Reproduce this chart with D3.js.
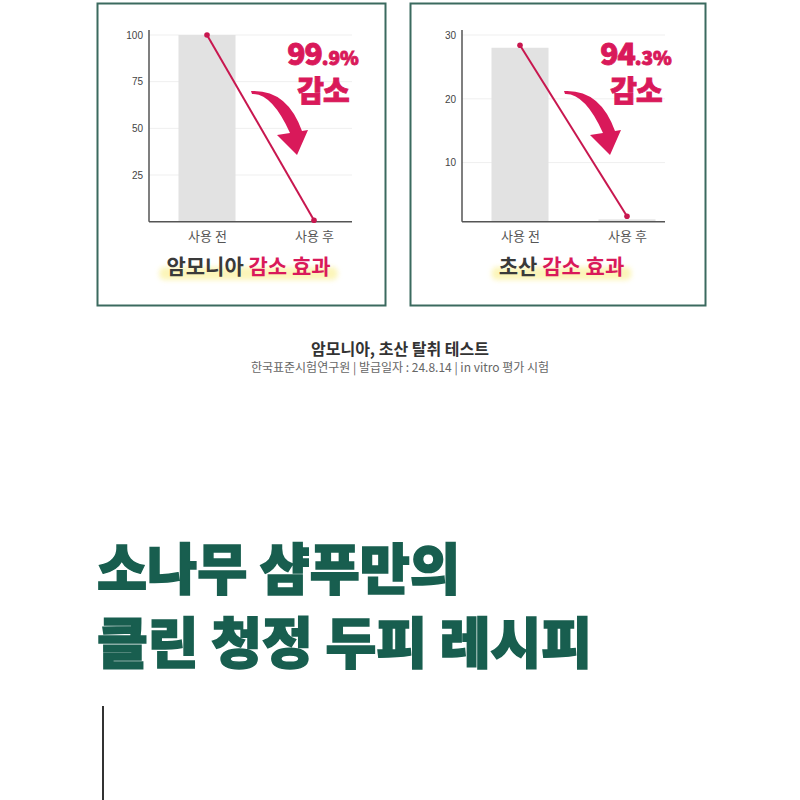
<!DOCTYPE html>
<html>
<head>
<meta charset="utf-8">
<script src="https://cdn.jsdelivr.net/npm/d3@7"></script>
<style>
  body { margin: 0; background: #fff; }
  svg { display: block; }
  text { font-family: "Noto Sans CJK KR", "Noto Sans", sans-serif; }
</style>
</head>
<body>
<svg id="chart" width="800" height="800"></svg>
<script>
// ------ DATA ------
const categories = ['사용 전', '사용 후'];

const ammoniaBars = [100, 0.1];
const ammoniaLine = [100, 0.8];
const ammoniaTicks = [25, 50, 75, 100];
const ammoniaDomain = [0, 100];
const ammoniaPct = ['99', '.9%'];
const ammoniaTitle = ['암모니아 ', '감소 효과'];

const aceticBars = [28.0, 1.1];
const aceticLine = [28.4, 1.6];
const aceticTicks = [10, 20, 30];
const aceticDomain = [0.74, 30];
const aceticPct = ['94', '.3%'];
const aceticTitle = ['초산 ', '감소 효과'];

const reduceWord = '감소';
const captionTitle = '암모니아, 초산 탈취 테스트';
const captionSource = '한국표준시험연구원 | 발급일자 : 24.8.14 | in vitro 평가 시험';
const headline = ['소나무 샴푸만의', '클린 청정 두피 레시피'];

// ------ STYLE ------
const RED = '#d9195a';
const LINE_RED = '#c8174f';
const GREEN = '#185e4f';

const svg = d3.select('#chart');

const defs = svg.append('defs');
defs.append('filter').attr('id', 'soft')
  .attr('x', '-10%').attr('y', '-50%').attr('width', '120%').attr('height', '200%')
  .append('feGaussianBlur').attr('stdDeviation', 2.5);

// one chart card
function drawPanel(px, panelW, plotX, bars, line, ticks, domain, pct, title){
  // card border
  svg.append('rect')
    .attr('x', px).attr('y', 3.5)
    .attr('width', panelW).attr('height', 302)
    .attr('fill', '#fff')
    .attr('stroke', '#3b6a5f')
    .attr('stroke-width', 2);

  const plotW = 203, top = 30, bottom = 221.7;
  const g = svg.append('g').attr('transform', `translate(${plotX},0)`);

  const x = d3.scalePoint().domain(categories).range([58, 165]);
  const y = d3.scaleLinear().domain(domain).range([bottom, 35]);
  const barW = 57;

  // gridlines
  g.selectAll('.grid').data(ticks).join('line')
    .attr('x1', 0).attr('x2', plotW)
    .attr('y1', d => y(d)).attr('y2', d => y(d))
    .attr('stroke', '#efefef').attr('stroke-width', 1);

  // bars
  g.selectAll('.bar').data(bars).join('rect')
    .attr('x', (d, i) => x(categories[i]) - barW / 2)
    .attr('width', barW)
    .attr('y', d => y(d))
    .attr('height', d => Math.max(0, bottom - y(d)))
    .attr('fill', '#e2e2e2');

  // y axis
  const yAxis = g.append('g')
    .call(d3.axisLeft(y).tickValues(ticks).tickSize(0).tickPadding(6));
  yAxis.select('.domain').remove();
  yAxis.selectAll('text')
    .attr('fill', '#444').style('font-size', '10px')
    .style('font-family', '"Liberation Sans", Arial, sans-serif');
  g.append('line').attr('x1', 0).attr('x2', 0).attr('y1', top).attr('y2', bottom)
    .attr('stroke', '#555').attr('stroke-width', 1.5);

  // x axis
  const xAxis = g.append('g').attr('transform', `translate(0,${bottom})`)
    .call(d3.axisBottom(x).tickSize(0).tickPadding(10));
  xAxis.select('.domain').remove();
  xAxis.selectAll('text').attr('fill', '#555').style('font-size', '13px');
  g.append('line').attr('x1', 0).attr('x2', plotW).attr('y1', bottom).attr('y2', bottom)
    .attr('stroke', '#555').attr('stroke-width', 1.5);

  // reduction line
  g.append('path')
    .datum(line)
    .attr('fill', 'none')
    .attr('stroke', LINE_RED)
    .attr('stroke-width', 2)
    .attr('d', d3.line()
      .x((d, i) => x(categories[i]))
      .y(d => y(d)));
  g.selectAll('.dot').data(line).join('circle')
    .attr('cx', (d, i) => x(categories[i]))
    .attr('cy', d => y(d))
    .attr('r', 2.8)
    .attr('fill', LINE_RED);

  // curved arrow
  g.append('path')
    .attr('d', 'M102,91 Q138,89 153,131 L159,130 L148,155 L128,135 L141,133 Q123,93 103,94 Z')
    .attr('fill', RED);

  // percentage callout
  const pctText = g.append('text')
    .attr('x', 174).attr('y', 65)
    .attr('text-anchor', 'middle')
    .attr('fill', RED)
    .attr('stroke', RED).attr('stroke-width', 0.9)
    .style('font-weight', 900);
  pctText.append('tspan').text(pct[0]).style('font-size', '30px').attr('letter-spacing', -1);
  pctText.append('tspan').text(pct[1]).style('font-size', '19px');

  g.append('text')
    .attr('x', 174).attr('y', 102)
    .attr('text-anchor', 'middle')
    .attr('fill', RED)
    .attr('stroke', RED).attr('stroke-width', 0.9)
    .style('font-size', '29px')
    .style('font-weight', 900)
    .attr('letter-spacing', -1)
    .text(reduceWord);

  // card title with highlighter
  const cx = plotW / 2 - 2;
  const t = g.append('text')
    .attr('x', cx).attr('y', 274)
    .attr('text-anchor', 'middle')
    .style('font-size', '21px')
    .style('font-weight', 700);
  t.append('tspan').text(title[0]).attr('fill', '#3a3a3a');
  t.append('tspan').text(title[1]).attr('fill', RED);
  const bb = t.node().getBBox();
  g.insert('rect', () => t.node())
    .attr('x', bb.x - 7).attr('y', 267)
    .attr('width', bb.width + 14).attr('height', 13)
    .attr('rx', 5)
    .attr('fill', '#fbf3a8')
    .attr('opacity', 0.8)
    .attr('filter', 'url(#soft)');
}

drawPanel(97.5, 288, 149, ammoniaBars, ammoniaLine, ammoniaTicks, ammoniaDomain, ammoniaPct, ammoniaTitle);
drawPanel(410.5, 295, 462, aceticBars, aceticLine, aceticTicks, aceticDomain, aceticPct, aceticTitle);

// caption
svg.append('text')
  .attr('x', 400).attr('y', 355)
  .attr('text-anchor', 'middle')
  .attr('fill', '#333')
  .style('font-size', '16px')
  .style('font-weight', 700)
  .text(captionTitle);
svg.append('text')
  .attr('x', 400).attr('y', 372)
  .attr('text-anchor', 'middle')
  .attr('fill', '#666')
  .style('font-size', '12px')
  .text(captionSource);

// headline
svg.selectAll('.headline').data(headline).join('text')
  .attr('x', 97)
  .attr('y', (d, i) => 589 + i * 74)
  .attr('fill', GREEN)
  .attr('stroke', GREEN)
  .attr('stroke-width', 1.6)
  .style('font-size', '55px')
  .style('font-weight', 900)
  .attr('textLength', (d, i) => i === 0 ? 363 : 495)
  .attr('lengthAdjust', 'spacingAndGlyphs')
  .text(d => d);

// divider
svg.append('line')
  .attr('x1', 103).attr('x2', 103)
  .attr('y1', 706).attr('y2', 800)
  .attr('stroke', '#333').attr('stroke-width', 2);
</script>
</body>
</html>
